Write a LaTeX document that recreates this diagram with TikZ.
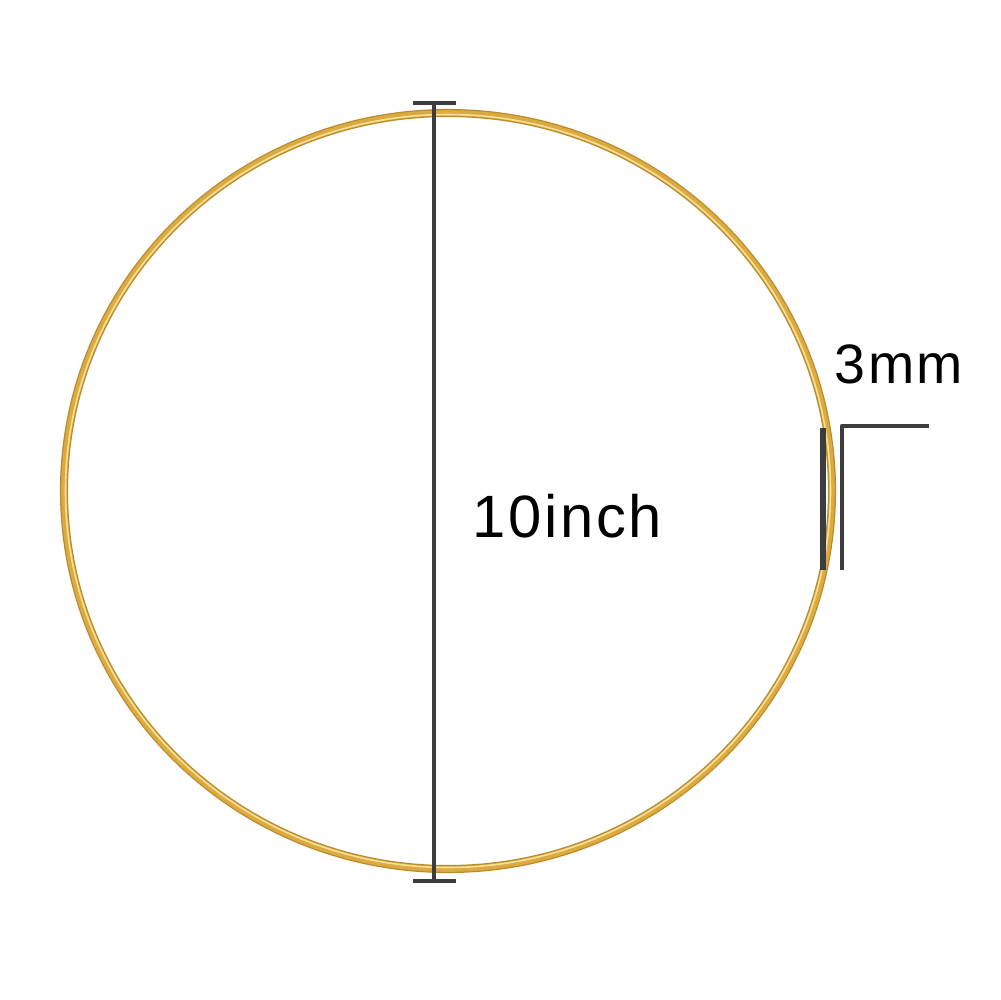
\documentclass[tikz,border=0pt]{standalone}
\usepackage{fontspec}
\setmainfont[LetterSpace=4.5]{Liberation Sans}
\usepackage{xcolor}
\usetikzlibrary{positioning}
\definecolor{gold}{HTML}{DCAA3E}
\definecolor{golddk}{HTML}{B98A2C}
\definecolor{goldlt}{HTML}{F6E09A}
\definecolor{ink}{HTML}{3D3D3F}
\tikzset{fig/.style={line join=round,line cap=butt},
  dimline/.style={ink,line width=1.25pt},
  tag/.style={font=\fontsize{17}{20}\selectfont,black,inner sep=0pt}}

\begin{document}
\begin{tikzpicture}[fig,x=0.1mm,y=-0.1mm]
  \fill[white](0,0)rectangle(1000,1000);
  \useasboundingbox(0,0)rectangle(1000,1000);
  % the gold ring
  \draw[golddk,line width=2.3pt](448,491)ellipse[x radius=384,y radius=378];
  \draw[gold,line width=1.6pt](448,491)ellipse[x radius=384,y radius=378];
  \draw[goldlt,line width=0.45pt](448,491)ellipse[x radius=382.5,y radius=376.5];
  % diameter -- 10inch
  \coordinate(top)at(434,103);
  \coordinate(bot)at(434,881);
  \draw[dimline](top)--(bot);
  \draw[dimline]([xshift=-2.1mm]top)--([xshift=2.2mm]top);
  \draw[dimline]([xshift=-2.1mm]bot)--([xshift=2.2mm]bot);
  \node[tag,anchor=base west](dia)at(472,537){10inch};
  % wire thickness -- 3mm
  \coordinate(wa)at(823,428);
  \coordinate(wb)at(823,570);
  \draw[ink,line width=1.5pt](wa)--(wb);
  \coordinate(ca)at(842,570);
  \coordinate(cb)at(842,426);
  \coordinate(cc)at(929,426);
  \draw[dimline](ca)--(cb)--(cc);
  \node[tag,font=\fontsize{15.8}{19}\selectfont,anchor=base west](wire)at(834,383){3mm};
\end{tikzpicture}
\end{document}
